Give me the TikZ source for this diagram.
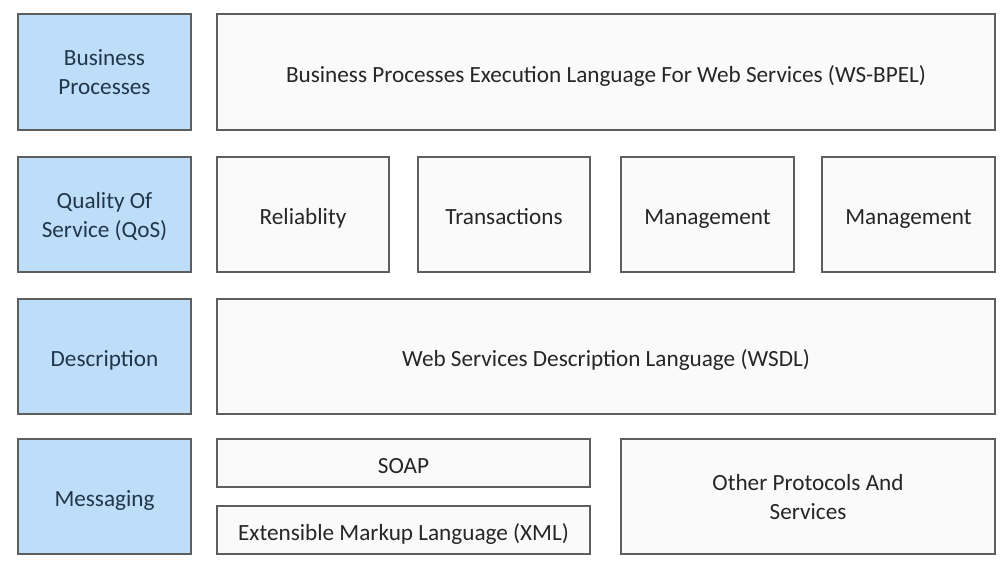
\documentclass[tikz,border=0pt]{standalone}
\usepackage{fontspec}
\setmainfont{Carlito}
\definecolor{layerblue}{HTML}{BDDDF8}
\definecolor{boxgray}{HTML}{FAFAFA}
\definecolor{edgegray}{HTML}{5E5E5E}
\definecolor{textdark}{HTML}{262626}
\definecolor{textnavy}{HTML}{22364A}
\tikzset{
	box/.style={draw=edgegray, line width=1.8pt, inner sep=0pt, outer sep=0pt, align=center, font=\fontsize{23.2}{29}\selectfont, execute at begin node=\strut, execute at end node=\strut, text depth=0pt},
	layer/.style={box, fill=layerblue, text=textnavy, minimum width=173pt},
	part/.style={box, fill=boxgray, text=textdark}
}
\begin{document}
\begin{tikzpicture}[x=1pt, y=-1pt]
	\useasboundingbox[fill=white] (0,0) rectangle (1007,563);
	\node[layer, minimum height=116pt] (bp) at (104.5,72) {Business\\Processes};
	\node[layer, minimum height=115pt] (qos) at (104.5,214.5) {Quality Of\\Service (QoS)};
	\node[layer, minimum height=115pt] (desc) at (104.5,356.5) {Description};
	\node[layer, minimum height=115pt] (msg) at (104.5,496.5) {Messaging};
	
	\node[part, minimum width=778pt, minimum height=116pt] (bpel) at (606,72) {Business Processes Execution Language For Web Services (WS-BPEL)};
	
	\node[part, minimum width=172pt, minimum height=115pt] (rel) at (303,214.5) {Reliablity};
	\node[part, minimum width=172pt, minimum height=115pt] (trans) at (504,214.5) {Transactions};
	\node[part, minimum width=173pt, minimum height=115pt] (mgmt) at (707.5,214.5) {Management};
	\node[part, minimum width=173pt, minimum height=115pt] (mgmtb) at (908.5,214.5) {Management};
	
	\node[part, minimum width=778pt, minimum height=115pt] (wsdl) at (606,356.5) {Web Services Description Language (WSDL)};
	
	\node[part, minimum width=373pt, minimum height=48pt] (soap) at (403.5,463) {SOAP};
	\node[part, minimum width=373pt, minimum height=48pt] (xml) at (403.5,530) {Extensible Markup Language (XML)};
	\node[part, minimum width=374pt, minimum height=115pt] (other) at (808,496.5) {Other Protocols And\\Services};
\end{tikzpicture}
\end{document}
